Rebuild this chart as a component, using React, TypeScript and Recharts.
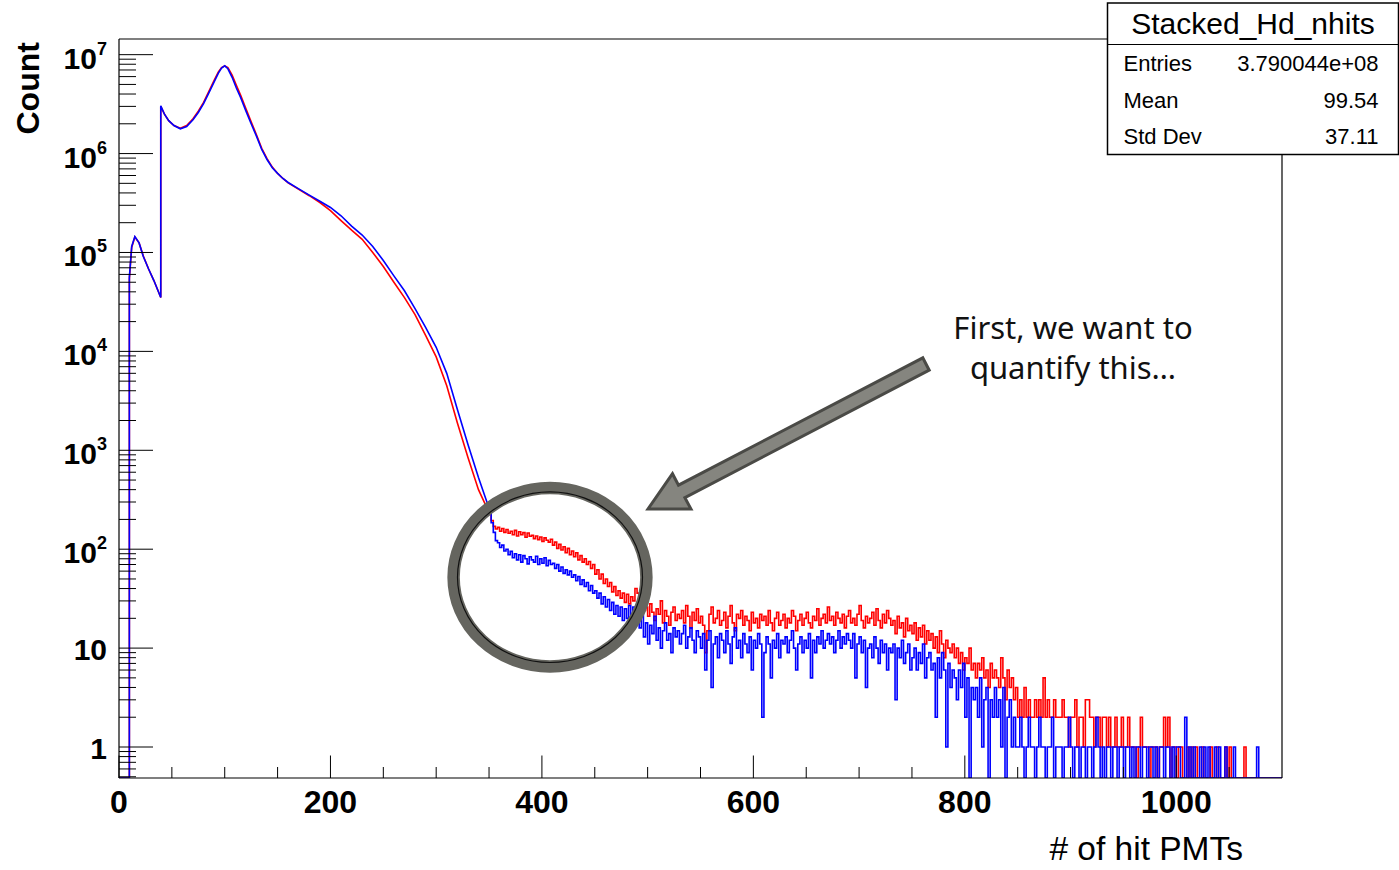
import React from 'react';
import { LineChart, Line, XAxis, YAxis } from 'recharts';

// ---------- data ----------
const X_MAX = 1100;
const Y_MIN = 0.486;
const Y_MAX = 1.44e7;

// smooth, high-statistics part (0 .. 350): sampled points of the histogram outline
const smoothX: number[] = [
  0, 9.8, 9.8, 12, 15, 19, 23, 28, 33, 39.5,
  39.5, 43, 47, 52, 58, 64, 70, 75, 80, 85,
  90, 94, 97, 100, 103, 107, 111, 115, 120, 125,
  130, 135, 140, 145, 150, 155, 160, 170, 180, 190,
  200, 210, 220, 230, 240, 250, 260, 270, 280, 290,
  300, 310, 320, 330, 340, 350,
];
const redSmooth: number[] = [
  0, 0, 5.4e4, 1.12e5, 1.43e5, 1.25e5, 9.2e4, 6.8e4, 5.2e4, 3.5e4,
  3.0e6, 2.5e6, 2.15e6, 1.92e6, 1.8e6, 1.92e6, 2.25e6, 2.68e6, 3.3e6, 4.25e6,
  5.5e6, 6.7e6, 7.4e6, 7.7e6, 7.4e6, 6.2e6, 4.9e6, 3.9e6, 2.85e6, 2.1e6,
  1.55e6, 1.13e6, 8.9e5, 7.3e5, 6.3e5, 5.6e5, 5.05e5, 4.35e5, 3.75e5, 3.2e5,
  2.65e5, 2.1e5, 1.68e5, 1.36e5, 1.0e5, 7.2e4, 5.0e4, 3.5e4, 2.35e4, 1.45e4,
  8.8e3, 4.5e3, 1.9e3, 850, 400, 235,
];
const blueSmooth: number[] = [
  0, 0, 5.6e4, 1.15e5, 1.45e5, 1.25e5, 9.1e4, 6.8e4, 5.2e4, 3.5e4,
  3.04e6, 2.5e6, 2.15e6, 1.92e6, 1.78e6, 1.88e6, 2.2e6, 2.6e6, 3.2e6, 4.1e6,
  5.3e6, 6.5e6, 7.3e6, 7.7e6, 7.2e6, 5.9e6, 4.6e6, 3.7e6, 2.7e6, 2.0e6,
  1.5e6, 1.1e6, 8.7e5, 7.2e5, 6.3e5, 5.6e5, 5.1e5, 4.4e5, 3.8e5, 3.3e5,
  2.85e5, 2.35e5, 1.85e5, 1.5e5, 1.15e5, 8.3e4, 5.8e4, 4.1e4, 2.7e4, 1.75e4,
  1.1e4, 6.0e3, 2.6e3, 1.15e3, 530, 260,
];

// noisy part (350 .. 1100) in 2-wide bins
const BIN_START = 350;
const BIN_WIDTH = 2;

const redBins: number[] = [
  235, 195, 170, 160, 166, 152, 162, 148, 158, 145,
  152, 140, 155, 136, 150, 140, 147, 132, 146, 135,
  138, 128, 136, 125, 133, 120, 130, 123, 118, 126,
  110, 118, 102, 112, 98, 106, 92, 102, 88, 96,
  84, 92, 78, 86, 74, 80, 70, 75, 64, 70,
  56, 62, 50, 56, 45, 50, 42, 46, 37, 42,
  34, 38, 32, 36, 29, 35, 28, 33, 30, 40,
  36, 27, 30, 24, 26, 21, 28, 23, 19, 25,
  22, 30, 18, 24, 21, 17, 23, 26, 19, 22,
  20, 24, 18, 27, 21, 16, 23, 19, 25, 18,
  21, 17, 9, 15, 22, 26, 18, 20, 24, 17,
  19, 23, 16, 21, 27, 18, 15, 22, 20, 24,
  17, 21, 19, 15, 23, 18, 20, 16, 22, 19,
  21, 17, 24, 18, 15, 20, 23, 17, 19, 22,
  16, 20, 18, 24, 21, 15, 19, 22, 17, 20,
  23, 18, 16, 21, 19, 25, 17, 20, 22, 18,
  26, 19, 21, 17, 23, 20, 18, 22, 16, 21,
  24, 18, 20, 17, 22, 27, 19, 16, 21, 18,
  20, 23, 17, 25, 19, 16, 22, 18, 24, 20,
  17, 19, 14, 21, 16, 18, 13, 20, 15, 17,
  14, 18, 12, 16, 13, 17, 11, 15, 12, 14,
  10, 13, 9, 15, 11, 8, 12, 10, 9, 11,
  8, 10, 7, 9, 6, 8, 7, 10, 6, 7,
  5, 7, 6, 8, 5, 6, 4, 7, 5, 6,
  5, 4, 8, 5, 3, 6, 4, 5, 3, 4,
  2, 3, 2, 4, 2, 3, 2, 2, 3, 2,
  3, 2, 5, 2, 3, 2, 2, 3, 2, 2,
  2, 3, 2, 2, 1, 2, 2, 3, 1, 2,
  2, 1, 3, 3, 2, 2, 1, 2, 2, 1,
  2, 2, 1, 2, 1, 1, 2, 1, 1, 2,
  1, 1, 2, 1, 1, 1, 0, 1, 2, 1,
  1, 1, 0, 1, 1, 1, 0, 1, 1, 2,
  1, 2, 0, 1, 1, 0, 1, 1, 0, 0,
  1, 0, 1, 0, 1, 0, 0, 1, 0, 0,
  0, 1, 0, 0, 1, 0, 0, 0, 1, 0,
  1, 0, 0, 0, 0, 0, 0, 1, 0, 0,
  0, 0, 0, 0, 0, 0, 0, 0, 0, 0,
  0, 0, 0, 0, 0,
];

const blueBins: number[] = [
  250, 185, 148, 122, 116, 104, 110, 96, 100, 88,
  95, 82, 90, 78, 88, 74, 86, 80, 71, 84,
  78, 74, 85, 70, 80, 72, 82, 68, 77, 70,
  72, 64, 70, 60, 66, 57, 62, 55, 60, 52,
  55, 48, 53, 44, 49, 42, 46, 38, 43, 36,
  38, 32, 36, 28, 33, 26, 31, 24, 29, 22,
  27, 21, 26, 19, 25, 20, 27, 18, 26, 22,
  22, 16, 22, 13, 18, 11, 17, 14, 21, 12,
  16, 10, 15, 18, 12, 14, 9, 16, 13, 15,
  11, 14, 17, 10, 13, 16, 12, 9, 15, 13,
  10, 14, 6, 12, 15, 4, 11, 13, 8, 14,
  12, 9, 15, 11, 7, 13, 16, 10, 12, 8,
  14, 11, 9, 13, 6, 12, 10, 14, 11, 2,
  9, 13, 11, 5, 12, 10, 14, 8, 12, 11,
  13, 9, 12, 15, 10, 6, 11, 13, 9, 12,
  10, 14, 5, 12, 9, 13, 11, 15, 10, 12,
  14, 11, 13, 9, 12, 15, 10, 13, 11, 14,
  12, 10, 14, 5, 11, 13, 9, 12, 4, 10,
  11, 8, 13, 10, 7, 12, 9, 11, 6, 10,
  9, 11, 3, 10, 8, 12, 7, 9, 11, 6,
  8, 10, 6, 9, 7, 11, 5, 8, 9, 6,
  7, 2, 8, 5, 9, 6, 1, 7, 4, 6,
  5, 3, 6, 4, 7, 2, 5, 0, 4, 3,
  4, 2, 5, 1, 3, 4, 0, 3, 2, 4,
  2, 3, 1, 4, 0, 2, 3, 1, 2, 1,
  1, 2, 1, 0, 1, 2, 1, 1, 0, 1,
  2, 1, 1, 0, 1, 1, 2, 0, 1, 1,
  1, 0, 1, 1, 2, 1, 0, 1, 1, 0,
  1, 1, 0, 1, 1, 0, 1, 2, 1, 0,
  1, 0, 1, 1, 0, 1, 1, 0, 1, 1,
  0, 1, 1, 0, 1, 0, 1, 1, 0, 1,
  1, 0, 1, 1, 0, 1, 0, 1, 1, 0,
  1, 1, 0, 1, 0, 1, 1, 0, 0, 2,
  0, 1, 0, 1, 0, 0, 1, 0, 1, 0,
  1, 0, 0, 1, 0, 1, 0, 0, 1, 0,
  0, 0, 1, 0, 0, 0, 0, 0, 0, 0,
  0, 0, 0, 1, 0, 0, 0, 0, 0, 0,
  0, 0, 0, 0, 0,
];

const xTicks: number[] = [
  0, 50, 100, 150, 200, 250, 300, 350, 400, 450, 500, 550,
  600, 650, 700, 750, 800, 850, 900, 950, 1000, 1050,
];
const xMajorTicks: number[] = [0, 200, 400, 600, 800, 1000];

const yMajorTicks: number[] = [1, 10, 100, 1e3, 1e4, 1e5, 1e6, 1e7];
const yMinorTicks: number[] = [
  0.5, 0.6, 0.7, 0.8, 0.9,
  2, 3, 4, 5, 6, 7, 8, 9,
  20, 30, 40, 50, 60, 70, 80, 90,
  200, 300, 400, 500, 600, 700, 800, 900,
  2e3, 3e3, 4e3, 5e3, 6e3, 7e3, 8e3, 9e3,
  2e4, 3e4, 4e4, 5e4, 6e4, 7e4, 8e4, 9e4,
  2e5, 3e5, 4e5, 5e5, 6e5, 7e5, 8e5, 9e5,
  2e6, 3e6, 4e6, 5e6, 6e6, 7e6, 8e6, 9e6,
];

const statsTitle = 'Stacked_Hd_nhits';
const statsRows: [string, string][] = [
  ['Entries', '3.790044e+08'],
  ['Mean', '99.54'],
  ['Std Dev', '37.11'],
];

// ---------- tables for the chart ----------
const floorLog = (v: number) => Math.max(v, Y_MIN);
const toPoints = (xs: number[], vs: number[]) => xs.map((x, i) => ({ x, v: floorLog(vs[i]) }));
const binEdges: number[] = redBins.map((_, i) => BIN_START + i * BIN_WIDTH);
const toSteps = (vs: number[]) => {
  const pts = binEdges.map((x, i) => ({ x, v: floorLog(vs[i]) }));
  pts.push({ x: X_MAX, v: floorLog(vs[vs.length - 1]) });
  return pts;
};
const redSmoothData = toPoints(smoothX, redSmooth);
const blueSmoothData = toPoints(smoothX, blueSmooth);
const redStepData = toSteps(redBins);
const blueStepData = toSteps(blueBins);

// ---------- layout ----------
const W = 1399;
const H = 870;
const MARGIN = { top: 39, right: 117, bottom: 0, left: 0 };
const Y_AXIS_W = 119;
const X_AXIS_H = 92;
const PLOT_LEFT = MARGIN.left + Y_AXIS_W;
const PLOT_RIGHT = W - MARGIN.right;
const PLOT_TOP = MARGIN.top;
const PLOT_BOTTOM = H - MARGIN.bottom - X_AXIS_H;
const FONT = "'Liberation Sans', Arial, Helvetica, sans-serif";
const RED = '#ff0000';
const BLUE = '#0000ff';
const LW = 1.6;

const XTick = (props: any) => {
  const { payload } = props;
  const cx = payload?.coordinate ?? props.x;
  const v = payload.value;
  const major = xMajorTicks.includes(v);
  return (
    <g>
      <line
        x1={cx}
        x2={cx}
        y1={PLOT_BOTTOM}
        y2={PLOT_BOTTOM - (major ? 22.5 : 11)}
        stroke="#000"
        strokeWidth={1}
      />
      {major && (
        <text
          x={cx}
          y={PLOT_BOTTOM + 35}
          textAnchor="middle"
          fontFamily={FONT}
          fontWeight="bold"
          fontSize={32}
          fill="#000"
        >
          {v}
        </text>
      )}
    </g>
  );
};

const YTick = (props: any) => {
  const { payload } = props;
  const cy = payload?.coordinate ?? props.y;
  const v = payload.value;
  const major = yMajorTicks.includes(v);
  const exp = Math.round(Math.log10(v));
  return (
    <g>
      <line
        x1={PLOT_LEFT}
        x2={PLOT_LEFT + (major ? 34 : 17)}
        y1={cy}
        y2={cy}
        stroke="#000"
        strokeWidth={1}
      />
      {major &&
        (exp <= 1 ? (
          <text
            x={107}
            y={cy + 12}
            textAnchor="end"
            fontFamily={FONT}
            fontWeight="bold"
            fontSize={30}
            fill="#000"
          >
            {String(v)}
          </text>
        ) : (
          <text
            x={107}
            y={cy + 14}
            textAnchor="end"
            fontFamily={FONT}
            fontWeight="bold"
            fontSize={30}
            fill="#000"
          >
            10
            <tspan dy={-14} fontSize={18}>
              {exp}
            </tspan>
          </text>
        ))}
    </g>
  );
};

// arrow polygon for the annotation
const arrowPts = [
  [929.2, 370.2],
  [684.9, 497.6],
  [691.0, 509.1],
  [648.0, 509.0],
  [672.5, 473.7],
  [678.5, 485.2],
  [922.8, 357.8],
]
  .map((p) => p.join(','))
  .join(' ');

export default function App() {
  const boxX = 1107.5;
  const boxY = 3;
  const boxW = 291;
  const boxH = 151.5;
  const sepY = 44.5;
  const rowH = (boxY + boxH - sepY) / statsRows.length;
  return (
    <div style={{ position: 'absolute', left: 0, top: 0, width: W, height: H, background: '#fff' }}>
      <LineChart width={W} height={H} margin={MARGIN}>
        <XAxis
          dataKey="x"
          type="number"
          domain={[0, X_MAX]}
          ticks={xTicks}
          interval={0}
          height={X_AXIS_H}
          tickLine={false}
          axisLine={{ stroke: '#000', strokeWidth: 1.2 }}
          tick={<XTick />}
          allowDuplicatedCategory
        />
        <YAxis
          type="number"
          scale="log"
          domain={[Y_MIN, Y_MAX]}
          allowDataOverflow
          ticks={[...yMinorTicks, ...yMajorTicks].sort((a, b) => a - b)}
          interval={0}
          width={Y_AXIS_W}
          tickLine={false}
          axisLine={{ stroke: '#000', strokeWidth: 1.2 }}
          tick={<YTick />}
        />
        <Line
          data={redSmoothData}
          dataKey="v"
          type="linear"
          stroke={RED}
          strokeWidth={LW}
          dot={false}
          activeDot={false}
          isAnimationActive={false}
        />
        <Line
          data={redStepData}
          dataKey="v"
          type="stepAfter"
          stroke={RED}
          strokeWidth={LW}
          dot={false}
          activeDot={false}
          isAnimationActive={false}
        />
        <Line
          data={blueSmoothData}
          dataKey="v"
          type="linear"
          stroke={BLUE}
          strokeWidth={LW}
          dot={false}
          activeDot={false}
          isAnimationActive={false}
        />
        <Line
          data={blueStepData}
          dataKey="v"
          type="stepAfter"
          stroke={BLUE}
          strokeWidth={LW}
          dot={false}
          activeDot={false}
          isAnimationActive={false}
        />
      </LineChart>
      <svg
        width={W}
        height={H}
        style={{ position: 'absolute', left: 0, top: 0, pointerEvents: 'none' }}
      >
        {/* frame top & right */}
        <line x1={PLOT_LEFT} x2={PLOT_RIGHT} y1={PLOT_TOP} y2={PLOT_TOP} stroke="#000" strokeWidth={1.2} />
        <line x1={PLOT_RIGHT} x2={PLOT_RIGHT} y1={PLOT_TOP} y2={PLOT_BOTTOM} stroke="#000" strokeWidth={1.2} />

        {/* axis titles */}
        <text
          x={39.5}
          y={88.3}
          transform="rotate(-90, 39.5, 88.3)"
          textAnchor="middle"
          fontFamily={FONT}
          fontWeight="bold"
          fontSize={32}
          fill="#000"
        >
          Count
        </text>
        <text x={1243} y={860} textAnchor="end" fontFamily={FONT} fontSize={33.5} fill="#000">
          # of hit PMTs
        </text>

        {/* annotation ring */}
        <ellipse cx={550} cy={577.2} rx={96.4} ry={89.2} fill="none" stroke="#65655f" strokeWidth={12.5} />
        <ellipse cx={550} cy={577.2} rx={92.5} ry={85.3} fill="none" stroke="#111" strokeWidth={1.2} />

        {/* annotation arrow */}
        <polygon points={arrowPts} fill="#85857f" stroke="#4a4a46" strokeWidth={3} strokeLinejoin="miter" />

        {/* annotation text */}
        <text x={1073} y={338.5} textAnchor="middle" fontFamily="'Noto Sans', 'Open Sans', sans-serif" fontSize={31} fill="#111">
          First, we want to
        </text>
        <text x={1073} y={378.5} textAnchor="middle" fontFamily="'Noto Sans', 'Open Sans', sans-serif" fontSize={31} fill="#111">
          quantify this…
        </text>

        {/* stats box */}
        <rect x={boxX} y={boxY} width={boxW} height={boxH} fill="#fff" stroke="#000" strokeWidth={1.5} />
        <line x1={boxX} x2={boxX + boxW} y1={sepY} y2={sepY} stroke="#000" strokeWidth={1.2} />
        <text x={boxX + boxW / 2} y={34} textAnchor="middle" fontFamily={FONT} fontSize={30} fill="#000">
          {statsTitle}
        </text>
        {statsRows.map(([k, v], i) => (
          <g key={k}>
            <text x={1123.5} y={sepY + rowH * (i + 0.5) + 8} fontFamily={FONT} fontSize={22} fill="#000">
              {k}
            </text>
            <text x={1378.5} y={sepY + rowH * (i + 0.5) + 8} textAnchor="end" fontFamily={FONT} fontSize={22} fill="#000">
              {v}
            </text>
          </g>
        ))}
      </svg>
    </div>
  );
}
